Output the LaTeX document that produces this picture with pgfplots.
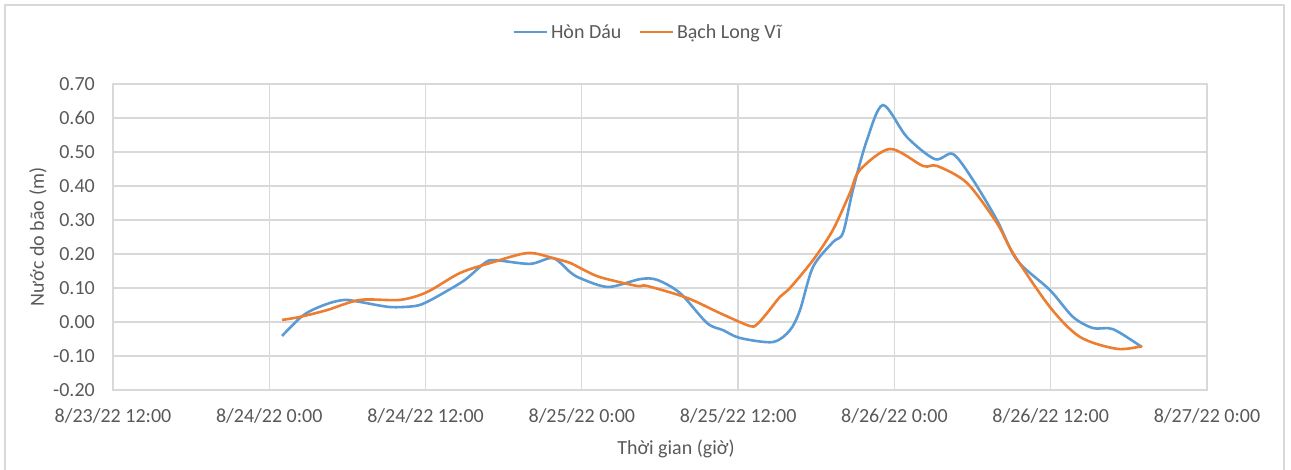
\documentclass[border=0pt]{standalone}
\usepackage{fontspec}
\setmainfont{Carlito}
\usepackage{pgfplots}
\pgfplotsset{compat=1.18}
\definecolor{cblue}{HTML}{5B9BD5}
\definecolor{corange}{HTML}{ED7D31}
\definecolor{cgrid}{HTML}{D9D9D9}
\definecolor{ctext}{HTML}{595959}
\begin{document}
\begin{tikzpicture}
\path[use as bounding box] (0pt,0pt) rectangle (1291pt,470pt);
\draw[cgrid,line width=1.5pt] (5pt,-5pt) -- (5pt,465pt) -- (1284pt,465pt) -- (1284pt,-5pt);
\begin{axis}[
  at={(113pt,80pt)}, anchor=south west,
  scale only axis, width=1094pt, height=306pt,
  xmin=0, xmax=84, ymin=-0.2, ymax=0.7,
  xtick={0,12,...,84},
  xticklabels={8/23/22 12:00,8/24/22 0:00,8/24/22 12:00,8/25/22 0:00,8/25/22 12:00,8/26/22 0:00,8/26/22 12:00,8/27/22 0:00},
  ytick={-0.2,-0.1,0,0.1,0.2,0.3,0.4,0.5,0.6,0.7},
  yticklabels={-0.20,-0.10,0.00,0.10,0.20,0.30,0.40,0.50,0.60,0.70},
  major tick length=0pt,
  grid=major,
  major grid style={cgrid,line width=1.3pt},
  axis line style={cgrid,line width=1.3pt},
  tick label style={font=\fontsize{20}{24}\selectfont, text=ctext},
  yticklabel style={anchor=east, inner sep=0pt, xshift=-18pt},
  xticklabel style={anchor=north, inner sep=0pt, yshift=-18pt},
  xlabel={Thời gian (giờ)},
  ylabel={Nước do bão (m)},
  label style={font=\fontsize{20}{24}\selectfont, text=ctext, inner sep=0pt},
  xlabel style={at={(axis description cs:0.5146,-0.1928)}, anchor=center},
  ylabel style={at={(axis description cs:-0.0686,0.5)}, anchor=center, rotate=0},
  legend style={font=\fontsize{20}{24}\selectfont, text=ctext, draw=none, fill=none,
    at={(axis description cs:0.4895,1.170)}, anchor=center,
    nodes={inner sep=3pt},
    /tikz/every even column/.append style={column sep=14pt}},
  legend columns=2,
  legend image code/.code={\draw[#1,line width=2.6pt] (0pt,0pt) -- (33pt,0pt);},
]
\addplot[cblue, line width=2.6pt, smooth, tension=0.5] coordinates {
(12.98,-0.041) (14.36,0.012) (15.28,0.035) (16.66,0.056) (17.81,0.065)
(18.97,0.059) (21.27,0.044) (23.19,0.047) (24.11,0.059) (25.49,0.088)
(27.03,0.124) (28.56,0.174) (29.33,0.182) (32.02,0.171) (33.78,0.188)
(35.09,0.147) (35.86,0.129) (38.01,0.103) (40.46,0.126) (41.77,0.124)
(43.54,0.085) (45.61,-0.003) (46.84,-0.024) (48.14,-0.047) (50.68,-0.059)
(51.98,-0.024) (52.75,0.035) (53.75,0.162) (55.28,0.235) (56.05,0.262)
(56.82,0.390) (57.89,0.535) (59.12,0.638) (60.96,0.544) (63.11,0.479)
(64.50,0.494) (66.03,0.418) (67.87,0.300) (69.41,0.182) (71.94,0.094)
(73.71,0.015) (75.25,-0.018) (76.78,-0.021) (79.01,-0.074)
};
\addlegendentry{Hòn Dáu}
\addplot[corange, line width=2.6pt, smooth, tension=0.5] coordinates {
(12.98,0.006) (14.36,0.015) (16.43,0.035) (18.97,0.065) (22.04,0.065)
(24.11,0.088) (26.64,0.144) (29.18,0.176) (31.86,0.203) (33.78,0.188)
(35.09,0.174) (35.86,0.159) (37.39,0.132) (40.23,0.106) (41.00,0.106)
(44.07,0.071) (46.61,0.026) (48.91,-0.012) (49.50,-0.005) (50.30,0.030)
(51.21,0.074) (51.98,0.100) (53.75,0.182) (55.28,0.271) (56.59,0.380)
(57.35,0.447) (59.66,0.509) (62.19,0.459) (63.27,0.459) (65.57,0.409)
(67.87,0.291) (69.10,0.203) (71.94,0.044) (74.25,-0.044) (77.09,-0.079)
(79.01,-0.071)
};
\addlegendentry{Bạch Long Vĩ}
\end{axis}
\end{tikzpicture}
\end{document}
